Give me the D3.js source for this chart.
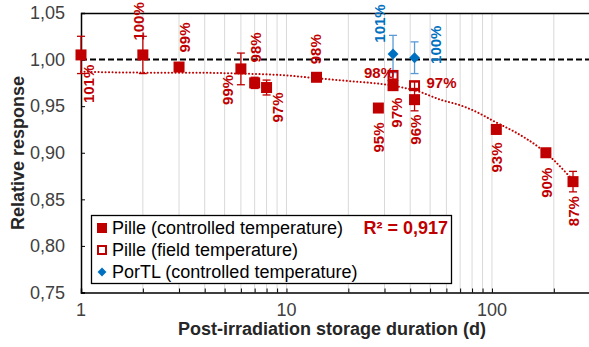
<!DOCTYPE html>
<html><head><meta charset="utf-8">
<script src="https://cdn.jsdelivr.net/npm/d3@7/dist/d3.min.js"></script>
<style>
html,body{margin:0;padding:0;background:#fff;}
svg{display:block;font-family:"Liberation Sans",Arial,sans-serif;}
</style></head>
<body>
<svg id="chart" width="589" height="347"></svg>
<script>
// ---- data ----
const ctrlDays   = [1, 2, 3, 6, 7, 8, 14, 28, 33, 42, 105, 183, 248];
const ctrlValues = [1.005, 1.005, 0.992, 0.990, 0.975, 0.970, 0.981, 0.948, 0.972, 0.957, 0.925, 0.900, 0.869];
const ctrlErrors = [0.020, 0.020, 0.004, 0.017, 0.006, 0.008, 0.003, 0.003, 0.004, 0.012, 0.003, 0.003, 0.011];
const ctrlLabels = ["101%", "100%", "99%", "99%", "98%", "97%", "98%", "95%", "97%", "96%", "93%", "90%", "87%"];

const fieldDays   = [33, 42];
const fieldValues = [0.983, 0.972];
const fieldErrors = [0.004, 0.004];
const fieldLabels = ["98%", "97%"];

const portlDays   = [33, 42];
const portlValues = [1.006, 1.002];
const portlErrors = [0.020, 0.017];
const portlLabels = ["101%", "100%"];

const trendDays   = [1, 2, 3, 6, 10, 14, 20, 33, 45, 56, 70, 80, 106, 130, 171, 200, 240, 250];
const trendValues = [0.987, 0.986, 0.986, 0.985, 0.983, 0.980, 0.977, 0.972, 0.965, 0.957, 0.951, 0.946, 0.932, 0.922, 0.905, 0.892, 0.874, 0.870];

const yTicks = [0.75, 0.80, 0.85, 0.90, 0.95, 1.00, 1.05];
const xMajor = [1, 10, 100];
const xMinor = [2,3,4,5,6,7,8,9,10,20,30,40,50,60,70,80,90,100,200];
const rSquared = "R² = 0,917";
const legendNames = ["Pille (controlled temperature)", "Pille (field temperature)", "PorTL (controlled temperature)"];

// ---- layout (label offsets in px, not data) ----
const ctrlLabelOffsets = [[8,29],[-4,-33.5],[6,-29.5],[-13,21],[1,-35.5],[11,20],[-1,-28],[0,29.5],[4,27],[1,30],[0,28],[1,30],[1,29.5]];
const fieldLabelOffsets = [[-14,-3],[27,-3]];
const portlLabelOffsets = [[-13,-30.5],[21,-13]];

const RED = "#c00000", BLUE = "#0070c0", BLUE_ERR = "#5b9bd5";
const svg = d3.select("#chart");
const L = 81, R = 590, T = 13, B = 292.5;
const x = d3.scaleLog().domain([1, 300]).range([L, R]);
const y = d3.scaleLinear().domain([0.75, 1.05]).range([B, T]);

// gridlines
svg.append("g").selectAll("line").data(xMinor).join("line")
  .attr("x1", d => x(d)).attr("x2", d => x(d)).attr("y1", T).attr("y2", B)
  .attr("stroke", "#d9d9d9").attr("stroke-width", 1);

// plot border top
svg.append("line").attr("x1", L).attr("x2", R).attr("y1", T+0.5).attr("y2", T+0.5).attr("stroke", "#000").attr("stroke-width", 1.3);

// x axis
const xAxis = d3.axisBottom(x).tickValues(xMinor.concat([1])).tickSize(-4).tickFormat("");
const gx = svg.append("g").attr("transform", `translate(0,${B})`).call(xAxis);
gx.select(".domain").attr("stroke", "#000").attr("stroke-width", 1.5);
gx.selectAll(".tick line").attr("stroke", "#000");
svg.append("g").selectAll("text").data(xMajor).join("text")
  .attr("x", d => x(d)).attr("y", 316).attr("text-anchor", "middle")
  .attr("font-size", 18).attr("fill", "#404040").text(d => d);

// y axis
const yAxis = d3.axisLeft(y).tickValues(yTicks).tickSize(-4).tickFormat("");
const gy = svg.append("g").attr("transform", `translate(${L},0)`).call(yAxis);
gy.select(".domain").attr("stroke", "#000").attr("stroke-width", 1.5);
gy.selectAll(".tick line").attr("stroke", "#000");
svg.append("g").selectAll("text").data(yTicks).join("text")
  .attr("x", 65).attr("y", d => y(d)).attr("dy", "0.35em").attr("text-anchor", "end")
  .attr("font-size", 18).attr("fill", "#404040").text(d => d3.format(".2f")(d).replace(".", ","));

// axis titles
svg.append("text").attr("x", 332).attr("y", 335).attr("text-anchor", "middle")
  .attr("font-size", 18).attr("font-weight", "bold").attr("fill", "#262626")
  .text("Post-irradiation storage duration (d)");
svg.append("text").attr("transform", "translate(24,153) rotate(-90)").attr("text-anchor", "middle")
  .attr("font-size", 18).attr("font-weight", "bold").attr("fill", "#262626")
  .text("Relative response");

// reference line at 1.00
svg.append("line").attr("x1", L).attr("x2", R).attr("y1", y(1)).attr("y2", y(1))
  .attr("stroke", "#000").attr("stroke-width", 2).attr("stroke-dasharray", "6,3");

// trendline
const trend = trendDays.map((d, i) => [d, trendValues[i]]);
svg.append("path").datum(trend)
  .attr("d", d3.line().x(d => x(d[0])).y(d => y(d[1])).curve(d3.curveMonotoneX))
  .attr("fill", "none").attr("stroke", RED).attr("stroke-width", 2)
  .attr("stroke-dasharray", "0.1,3.4").attr("stroke-linecap", "round");

// error bars
function errorBars(days, vals, errs, color) {
  const g = svg.append("g").attr("stroke", color).attr("stroke-width", 1.3);
  days.forEach((d, i) => {
    const cx = x(d), y0 = y(vals[i] - errs[i]), y1 = y(vals[i] + errs[i]);
    g.append("line").attr("x1", cx).attr("x2", cx).attr("y1", y0).attr("y2", y1);
    g.append("line").attr("x1", cx - 4).attr("x2", cx + 4).attr("y1", y0).attr("y2", y0);
    g.append("line").attr("x1", cx - 4).attr("x2", cx + 4).attr("y1", y1).attr("y2", y1);
  });
}
errorBars(ctrlDays, ctrlValues, ctrlErrors, RED);
errorBars(portlDays, portlValues, portlErrors, BLUE_ERR);

// markers
const S = 11;
svg.append("g").selectAll("rect").data(ctrlDays).join("rect")
  .attr("x", d => x(d) - S/2).attr("y", (d, i) => y(ctrlValues[i]) - S/2)
  .attr("width", S).attr("height", S).attr("fill", RED);
svg.append("g").selectAll("rect").data(fieldDays).join("rect")
  .attr("x", d => x(d) - S/2 + 1).attr("y", (d, i) => y(fieldValues[i]) - S/2 + 1)
  .attr("width", S - 2).attr("height", S - 2).attr("fill", "none").attr("stroke", RED).attr("stroke-width", 2);
errorBars(fieldDays, fieldValues, fieldErrors, RED);
const diamond = d3.symbol().type(d3.symbolDiamond2).size(75);
svg.append("g").selectAll("path").data(portlDays).join("path")
  .attr("transform", (d, i) => `translate(${x(d)},${y(portlValues[i])})`)
  .attr("d", diamond).attr("fill", BLUE);

// data labels
function rotLabels(days, vals, labels, offs, color) {
  svg.append("g").selectAll("text").data(days).join("text")
    .attr("transform", (d, i) => `translate(${x(d) + offs[i][0]},${y(vals[i]) + offs[i][1]}) rotate(-90)`)
    .attr("text-anchor", "middle").attr("dy", "0.35em")
    .attr("font-size", 15).attr("font-weight", "bold").attr("fill", color)
    .text((d, i) => labels[i]);
}
rotLabels(ctrlDays, ctrlValues, ctrlLabels, ctrlLabelOffsets, RED);
rotLabels(portlDays, portlValues, portlLabels, portlLabelOffsets, BLUE);
svg.append("g").selectAll("text").data(fieldDays).join("text")
  .attr("x", (d, i) => x(d) + fieldLabelOffsets[i][0]).attr("y", (d, i) => y(fieldValues[i]) + fieldLabelOffsets[i][1])
  .attr("text-anchor", "middle").attr("dy", "0.35em")
  .attr("font-size", 15).attr("font-weight", "bold").attr("fill", RED)
  .text((d, i) => fieldLabels[i]);

// legend
const lg = svg.append("g");
lg.append("rect").attr("x", 91.5).attr("y", 215.5).attr("width", 360).attr("height", 68)
  .attr("fill", "#fff").attr("stroke", "#000").attr("stroke-width", 1.3);
const rowY = [228, 250, 272];
lg.append("rect").attr("x", 97).attr("y", rowY[0] - 5).attr("width", 10).attr("height", 10).attr("fill", RED);
lg.append("rect").attr("x", 98).attr("y", rowY[1] - 4).attr("width", 8).attr("height", 8).attr("fill", "none").attr("stroke", RED).attr("stroke-width", 2);
lg.append("path").attr("transform", `translate(102,${rowY[2]})`).attr("d", d3.symbol().type(d3.symbolDiamond2).size(50)).attr("fill", BLUE);
lg.selectAll("text.leg").data(legendNames).join("text").attr("class", "leg")
  .attr("x", 112).attr("y", (d, i) => rowY[i]).attr("dy", "0.35em")
  .attr("font-size", 18).attr("fill", "#000").text(d => d);
lg.append("text").attr("x", 448).attr("y", rowY[0]).attr("dy", "0.35em").attr("text-anchor", "end")
  .attr("font-size", 18).attr("font-weight", "bold").attr("fill", RED).text(rSquared);
</script>
</body></html>
